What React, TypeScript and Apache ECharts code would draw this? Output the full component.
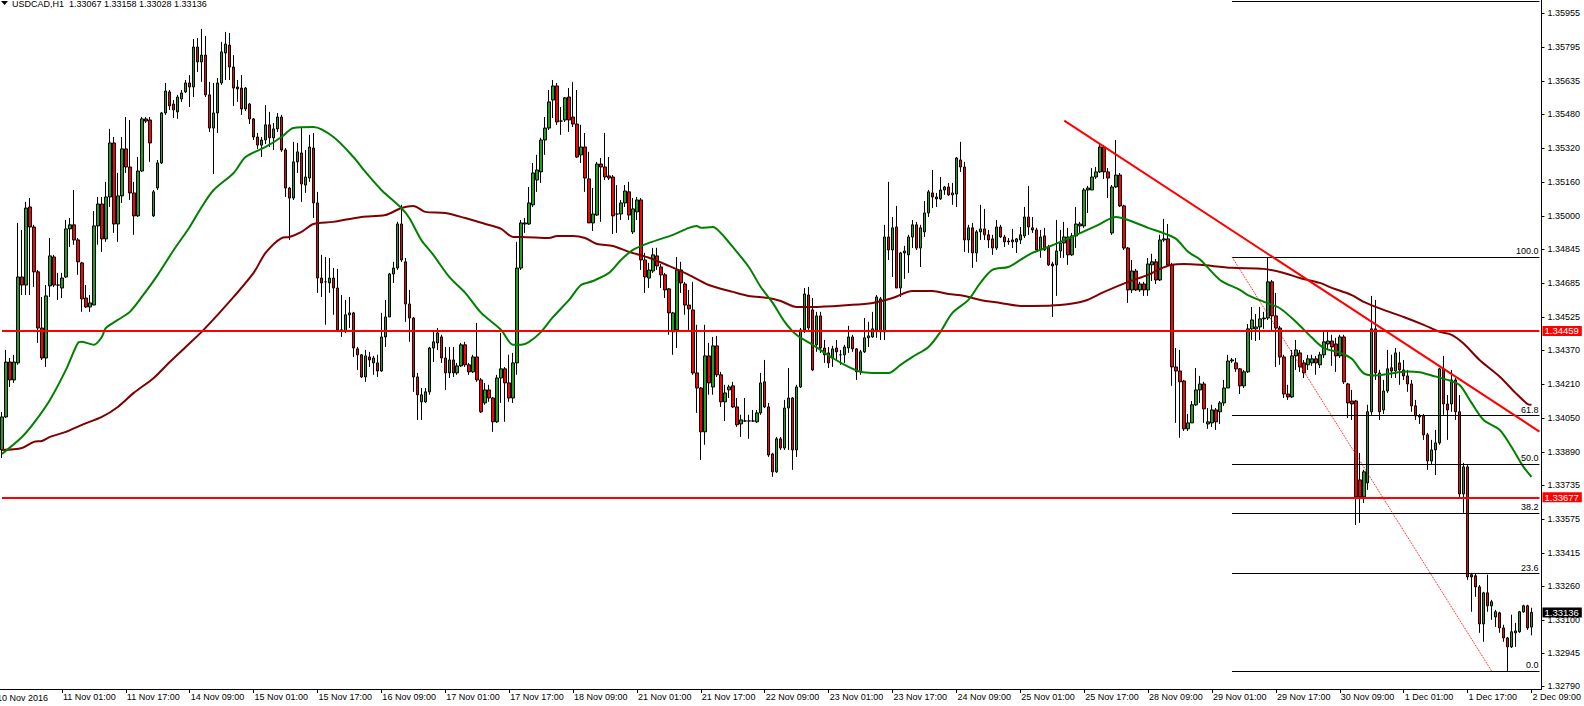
import React, { useEffect, useRef } from "react";
import * as echarts from "echarts";

// Prices are stored as points above 1.30000 (e.g. 4459 -> 1.34459)
const BASE = 1.3;
const px = (p: number) => +(BASE + p / 100000).toFixed(5);

const symbolName = "USDCAD,H1";

// trading days shown on the chart: [label, first hour, last hour]
const tradingDays: [string, number, number][] = [
  ["10 Nov", 10, 23], ["11 Nov", 0, 23], ["14 Nov", 0, 23], ["15 Nov", 0, 23], ["16 Nov", 0, 23],
  ["17 Nov", 0, 23], ["18 Nov", 0, 23], ["21 Nov", 0, 23], ["22 Nov", 0, 23], ["23 Nov", 0, 23],
  ["24 Nov", 0, 23], ["25 Nov", 0, 23], ["28 Nov", 0, 23], ["29 Nov", 0, 23], ["30 Nov", 0, 23],
  ["1 Dec", 0, 23], ["2 Dec", 0, 9],
];
const firstDateLabel = "10 Nov 2016";

const opens = [
  3900,4055,4313,4229,4309,4713,4675,5042,4948,4737, 4473,4332,4671,4807,4675,4661,4713,4939,4958,4887,
  4779,4614,4572,4581,4953,5056,4892,5089,5343,4962, 5094,5315,5230,5108,5000,5211,5456,5451,5000,5131,
  5249,5484,5583,5526,5489,5550,5583,5625,5606,5794, 5724,5756,5569,5413,5484,5625,5766,5803,5700,5606,
  5601,5503,5526,5456,5371,5333,5357,5428,5367,5409, 5465,5310,5131,5084,5254,5296,5145,5178,5319,5061,
  4708,4690,4685,4708,4661,4464,4455,4535,4544,4375, 4347,4243,4337,4309,4309,4271,4431,4525,4727,4755,
  4962,4784,4586,4520,4243,4126,4126,4173,4379,4403, 4431,4332,4262,4323,4262,4295,4394,4300,4267,4337,
  4229,4121,4182,4144,4032,4238,4281,4215,4144,4309, 4755,4967,4962,5052,5169,5207,5357,5413,5545,5611,
  5446,5451,5559,5465,5432,5287,5324,5174,4967,5004, 5244,5230,5188,5183,5009,5009,5061,5113,4925,5019,
  5075,4793,4708,4741,4812,4760,4723,4657,4455,4464, 4746,4680,4581,4558,4262,4191,3985,4342,4196,4389,
  4253,4126,4182,4201,4102,4022,4036,4036,4036,4032, 4074,4220,4102,3881,3797,3952,3909,4097,4144,3900,
  4196,4464,4628,4558,4394,4530,4379,4356,4332,4379, 4347,4347,4379,4431,4375,4267,4361,4427,4431,4464,
  4610,4455,4901,4840,4948,4661,4826,4817,4901,4958, 4849,4925,5014,5108,5089,5080,5122,5136,5099,5103,
  5263,5230,4887,4944,4826,4925,4939,4911,4892,4849, 4948,4901,4882,4887,4878,4887,4906,4995,4944,4934,
  4840,4906,4854,4774,4770,4835,4873,4901,4817,4906, 4953,4953,5122,5122,5183,5207,5324,5207,4920,5136,
  5192,5047,4849,4652,4741,4652,4680,4652,4770,4784, 4699,4887,4892,4770,4290,4271,4224,3999,4027,4112,
  4182,4210,4022,4027,4088,4079,4121,4191,4318,4309, 4281,4201,4267,4469,4469,4478,4516,4520,4690,4530,
  4473,4337,4163,4149,4342,4356,4309,4300,4309,4328, 4300,4347,4398,4412,4398,4342,4431,4210,4130,4130,
  3759,3679,3745,4079,4469,4262,4088,4177,4286,4271, 4309,4276,4248,4210,4107,4060,4060,3971,3848,3900,
  3933,4281,4116,4116,4229,4079,3693,3820,3313,3308, 3256,3082,3228,3167,3115,3134,3063,3016,2974,3040,
  3045,3139,3167,3067,
];
const highs = [
  4078,4370,4332,4347,4967,4934,5066,5084,4958,4746, 4619,4675,4896,4817,4732,4732,4981,4990,5122,4896,
  4784,4675,4628,5023,5089,5089,5160,5409,5371,5202, 5371,5465,5451,5160,5277,5465,5465,5465,5122,5263,
  5489,5625,5592,5545,5569,5592,5639,5662,5832,5836, 5879,5846,5630,5625,5648,5818,5865,5860,5756,5639,
  5662,5606,5531,5460,5390,5371,5521,5489,5437,5484, 5475,5319,5136,5348,5343,5413,5310,5381,5390,5113,
  4817,4807,4802,4755,4751,4628,4605,4619,4549,4384, 4351,4370,4361,4342,4347,4544,4605,4732,4784,4972,
  5052,4802,4652,4525,4262,4191,4191,4384,4455,4473, 4441,4384,4384,4384,4309,4403,4408,4309,4347,4497,
  4238,4215,4206,4149,4253,4450,4290,4347,4356,4878, 4981,4990,5136,5249,5287,5367,5465,5592,5639,5625,
  5512,5559,5601,5630,5592,5428,5390,5301,5131,5254, 5272,5390,5277,5192,5145,5075,5145,5160,5084,5089,
  5084,4826,4779,4850,4850,4774,4732,4661,4549,4807, 4784,4690,4652,4690,4488,4196,4488,4403,4431,4436,
  4267,4206,4206,4220,4144,4065,4144,4065,4088,4088, 4262,4323,4121,3886,3961,3961,4135,4285,4149,4206,
  4473,4661,4666,4614,4549,4549,4417,4384,4389,4417, 4370,4394,4483,4441,4379,4370,4520,4502,4549,4628,
  4619,4958,5160,4995,5047,4831,4859,4911,4981,4972, 4958,5070,5122,5216,5108,5183,5141,5155,5155,5277,
  5348,5254,4958,4967,4934,5052,5033,4934,4911,4981, 4958,4911,4896,4939,4896,4948,5042,5141,4995,4944,
  4934,4944,4864,4784,4981,4934,4972,4944,4920,5042, 4972,5131,5141,5225,5230,5338,5333,5225,5145,5357,
  5202,5052,4854,4793,4751,4690,4690,4802,4822,4798, 4911,4986,4962,4779,4379,4370,4229,4069,4130,4285,
  4248,4220,4097,4112,4097,4130,4229,4347,4332,4332, 4285,4276,4492,4572,4539,4572,4549,4807,4699,4638,
  4483,4347,4206,4370,4417,4370,4323,4347,4347,4342, 4361,4464,4464,4441,4427,4441,4441,4215,4182,4135,
  3886,3806,4112,4624,4605,4276,4229,4370,4347,4379, 4361,4323,4276,4229,4135,4069,4069,3980,3947,3994,
  4286,4342,4158,4276,4238,4158,3839,3834,3322,3317, 3265,3233,3313,3195,3148,3139,3078,3021,3125,3087,
  3143,3172,3172,3158,
];
const lows = [
  3862,4050,4196,4215,4300,4628,4628,4628,4666,4403, 4323,4290,4619,4666,4605,4614,4708,4854,4864,4723,
  4549,4567,4549,4581,4864,4831,4878,5042,4920,4878, 5061,5202,5075,4911,4995,5207,5437,5254,4995,5122,
  5244,5475,5498,5460,5456,5536,5578,5512,5559,5677, 5630,5559,5395,5197,5390,5616,5639,5639,5517,5536,
  5475,5493,5432,5357,5315,5277,5338,5324,5310,5395, 5301,5089,4887,5075,5202,5066,5108,5160,4990,4638,
  4619,4488,4638,4535,4455,4431,4450,4473,4337,4276, 4238,4220,4290,4253,4243,4267,4384,4525,4685,4746,
  4784,4502,4408,4173,4041,4041,4121,4159,4313,4370, 4309,4182,4238,4243,4253,4290,4290,4253,4262,4220,
  4074,4112,4126,3985,4027,4121,4032,4126,4121,4253, 4746,4920,4958,5042,5113,5155,5287,5404,5460,5428,
  5381,5442,5395,5418,5272,5249,5113,4967,4929,5000, 4972,5169,5169,4915,4920,4981,5042,4981,4915,4981,
  4746,4638,4661,4732,4746,4661,4614,4441,4347,4379, 4638,4535,4464,4253,4074,3853,3924,4159,4159,4243,
  4102,4036,4144,4097,4008,3961,4032,3952,4032,4027, 4065,4097,3867,3773,3792,3900,3900,3900,3806,3867,
  4191,4450,4464,4271,4361,4356,4309,4285,4290,4323, 4300,4309,4356,4361,4229,4253,4356,4384,4427,4427,
  4417,4417,4793,4713,4661,4619,4704,4732,4849,4840, 4760,4901,4995,5037,5042,5075,5099,5094,5052,5042,
  5207,4831,4826,4756,4784,4887,4887,4849,4817,4840, 4896,4854,4864,4849,4826,4868,4896,4911,4920,4835,
  4803,4835,4765,4525,4624,4803,4803,4770,4812,4849, 4920,4944,5014,5122,5174,5202,5174,5084,4911,5131,
  5042,4840,4591,4638,4647,4643,4624,4624,4694,4680, 4694,4878,4765,4201,4027,3957,3989,3989,4027,4107,
  4121,4027,3999,4008,3994,4022,4107,4191,4309,4267, 4163,4191,4262,4417,4412,4417,4469,4511,4464,4290,
  4300,4144,4135,4144,4276,4267,4238,4276,4295,4253, 4285,4332,4370,4295,4267,4332,4210,4050,4041,3547,
  3557,3651,3712,4065,4229,4041,4069,4168,4238,4238, 4206,4229,4173,4079,4041,4022,3947,3806,3829,3782,
  3924,4065,3947,4079,4041,3670,3604,3289,3139,3209, 3040,2998,3139,3101,3068,3040,2998,2861,2969,2974,
  3040,3134,3054,3028,
];
const closes = [
  4055,4313,4229,4313,4713,4675,5037,4948,4737,4473, 4332,4624,4812,4675,4675,4708,4939,4958,4887,4784,
  4610,4572,4591,4953,5056,4892,5089,5343,4962,5094, 5315,5230,5108,5000,5211,5456,5446,5343,5113,5249,
  5484,5587,5517,5498,5559,5578,5625,5606,5794,5724, 5756,5569,5413,5484,5625,5771,5808,5700,5601,5597,
  5503,5601,5456,5371,5333,5357,5428,5367,5409,5465, 5310,5131,5084,5254,5301,5150,5183,5324,5061,4708,
  4685,4690,4708,4661,4464,4464,4535,4544,4379,4347, 4243,4342,4323,4332,4271,4431,4525,4727,4755,4962,
  4793,4586,4520,4243,4159,4159,4173,4379,4408,4450, 4332,4262,4323,4262,4295,4394,4300,4267,4337,4229,
  4079,4182,4144,4032,4238,4281,4215,4144,4309,4755, 4967,4962,5061,5202,5216,5357,5413,5536,5611,5442,
  5446,5555,5451,5432,5277,5324,5178,4967,5009,5244, 5230,5183,5178,5000,5009,5061,5117,5004,5033,5075,
  4793,4713,4746,4817,4765,4723,4652,4544,4544,4746, 4685,4581,4563,4262,4191,3985,4342,4215,4389,4253,
  4126,4168,4196,4102,4018,4041,4036,4036,4036,4074, 4215,4102,3876,3797,3952,3909,4097,4144,3900,4196,
  4464,4633,4473,4276,4530,4379,4347,4309,4375,4361, 4347,4384,4431,4375,4267,4361,4427,4436,4469,4619,
  4455,4901,4840,4944,4661,4826,4835,4901,4958,4849, 4944,5014,5113,5089,5080,5122,5136,5099,5108,5272,
  5230,4887,4944,4826,4925,4939,4911,4887,4849,4948, 4901,4878,4878,4878,4892,4911,4995,4948,4934,4840,
  4901,4840,4770,4765,4835,4873,4901,4817,4906,4962, 4962,5122,5131,5183,5207,5324,5207,5178,5136,5192,
  5047,4849,4652,4741,4652,4680,4652,4774,4784,4699, 4887,4892,4770,4290,4271,4220,3999,4027,4112,4182,
  4210,4093,4032,4088,4032,4121,4191,4318,4323,4281, 4201,4267,4469,4511,4478,4516,4520,4690,4530,4473,
  4337,4163,4149,4342,4370,4290,4262,4328,4328,4309, 4347,4408,4412,4384,4342,4431,4220,4121,4116,3679,
  3679,3797,4079,4469,4262,4079,4177,4281,4271,4356, 4276,4248,4210,4107,4060,4055,3971,3848,3900,3933,
  4281,4116,4088,4229,4079,3693,3820,3303,3303,3256, 3082,3228,3167,3186,3139,3063,3016,2974,3045,3049,
  3139,3167,3063,3136,
];

// moving averages: [bar index, points]
const fastMA: [number, number][] = [
  [0,3881],[5,3961],[8,4027],[12,4135],[16,4276],[19,4403],[20,4408],[23,4394],[25,4431],[26,4473],
  [29,4511],[32,4549],[35,4619],[39,4723],[43,4840],[47,4948],[50,5042],[53,5122],[58,5202],[61,5277],
  [66,5324],[70,5371],[73,5413],[78,5418],[83,5371],[88,5277],[91,5207],[95,5122],[100,5037],[102,4990],
  [105,4887],[108,4817],[112,4713],[116,4638],[120,4544],[125,4464],[128,4394],[130,4394],[132,4408],[135,4455],
  [138,4525],[142,4605],[145,4675],[148,4694],[152,4732],[155,4793],[158,4840],[162,4873],[165,4892],[168,4911],
  [172,4944],[174,4953],[175,4944],[178,4948],[180,4920],[183,4854],[187,4760],[190,4666],[193,4591],[196,4502],
  [199,4440],[203,4394],[208,4332],[212,4290],[215,4267],[218,4262],[222,4262],[225,4300],[228,4337],[232,4384],
  [235,4455],[238,4544],[242,4605],[245,4685],[248,4746],[252,4760],[255,4793],[258,4826],[262,4854],[269,4911],
  [274,4953],[279,4995],[282,4981],[287,4944],[291,4918],[294,4892],[297,4831],[300,4795],[305,4699],[310,4652],
  [312,4628],[316,4596],[320,4566],[324,4502],[328,4428],[331,4379],[335,4358],[338,4328],[341,4260],[344,4250],
  [349,4263],[352,4269],[355,4265],[358,4250],[362,4229],[365,4205],[368,4121],[371,4041],[375,3995],[378,3914],
  [381,3820],[383,3773],
];
const slowMA: [number, number][] = [
  [0,3900],[5,3909],[8,3938],[10,3942],[12,3961],[16,3985],[20,4018],[25,4055],[29,4102],[33,4168],
  [38,4238],[42,4313],[46,4384],[50,4455],[54,4535],[58,4619],[63,4732],[66,4826],[70,4896],[72,4901],
  [75,4925],[78,4962],[83,4972],[90,4995],[96,5004],[100,5037],[103,5047],[106,5019],[111,5014],[116,4990],
  [121,4962],[125,4939],[128,4901],[130,4901],[137,4896],[139,4906],[143,4906],[146,4896],[149,4868],[153,4859],
  [157,4831],[162,4803],[167,4765],[172,4723],[177,4675],[183,4643],[187,4624],[192,4614],[195,4600],[199,4572],
  [203,4572],[212,4581],[218,4591],[223,4614],[228,4647],[233,4647],[237,4633],[241,4624],[245,4605],[250,4591],
  [255,4577],[258,4577],[265,4581],[271,4600],[276,4643],[282,4690],[287,4723],[290,4751],[293,4770],[296,4774],
  [300,4770],[308,4756],[316,4751],[321,4732],[325,4708],[330,4685],[333,4662],[338,4628],[341,4596],[346,4558],
  [351,4525],[356,4488],[360,4455],[363,4441],[366,4400],[370,4323],[375,4245],[379,4168],[382,4116],[383,4112],
];

// drawn objects
const horizontalLevels = [4459, 3677];
const trendLine: [number, number][] = [[266, 5448], [385, 3986]];
const fibAnchors: [number, number][] = [[308, 4807], [373, 2861]];
const fibRatios = [0, 0.236, 0.382, 0.5, 0.618, 1, 1.618];

const yTicks = [
  1.35955, 1.35795, 1.35635, 1.3548, 1.3532, 1.3516, 1.35, 1.34845, 1.34685, 1.34525, 1.3437,
  1.3421, 1.3405, 1.3389, 1.33735, 1.33575, 1.33415, 1.3326, 1.331, 1.32945, 1.3279,
];

const FONT = "Liberation Sans, Arial, sans-serif";

export default function App() {
  const ref = useRef<HTMLDivElement>(null);
  useEffect(() => {
    const categories: string[] = [];
    tradingDays.forEach(([d, h0, h1]) => {
      for (let h = h0; h <= h1; h++) categories.push(`${d} ${String(h).padStart(2, "0")}:00`);
    });
    const nBars = categories.length;
    const allCats = [...categories, "", ""];
    const lastIdx = allCats.length - 1;
    const showTick = (i: number) => i >= 15 && i < nBars && (i - 15) % 16 === 0;

    const candles = opens.map((o, i) => [px(o), px(closes[i]), px(lows[i]), px(highs[i])]);
    const last = nBars - 1;
    const title = `${symbolName}  ${px(opens[last]).toFixed(5)} ${px(highs[last]).toFixed(5)} ${px(lows[last]).toFixed(5)} ${px(closes[last]).toFixed(5)}`;

    const fibLow = fibAnchors[1][1];
    const fibHigh = fibAnchors[0][1];
    const fibLines = fibRatios.map((r) => {
      const v = +(BASE + (fibLow + r * (fibHigh - fibLow)) / 100000).toFixed(5);
      const style = { color: "#000", width: 1, type: "solid" as const };
      const label = {
        show: r <= 1, position: "insideEndTop" as const, formatter: (r * 100).toFixed(1),
        color: "#000", fontSize: 9, fontFamily: FONT, distance: 1,
      };
      return [
        { coord: [fibAnchors[0][0], v], lineStyle: style, label },
        { coord: [lastIdx, v], lineStyle: style, label },
      ];
    });

    const tagLabel = (text: string, bg: string) => ({
      show: true, position: "end" as const, formatter: text, color: "#fff", backgroundColor: bg,
      align: "left" as const, verticalAlign: "middle" as const,
      fontSize: 9.5, fontFamily: FONT, padding: [0, 3, 0, 2], distance: 3,
    });
    const fullWidth = (v: number, lineStyle: any, label: any) => [
      { coord: [0, v], lineStyle, label },
      { coord: [lastIdx, v], lineStyle, label },
    ];

    const chart = echarts.init(ref.current!, null, { renderer: "svg" });
    chart.setOption({
      animation: false,
      backgroundColor: "#fff",
      grid: { left: -1, top: 0, width: 1544, height: 689, containLabel: false },
      xAxis: {
        type: "category",
        data: allCats,
        boundaryGap: true,
        axisLine: { show: true, lineStyle: { color: "#000", width: 1 } },
        axisTick: { show: true, alignWithLabel: true, interval: (i: number) => showTick(i), length: 4, lineStyle: { color: "#000" } },
        axisLabel: {
          show: true, interval: (i: number) => showTick(i), align: "left", margin: 3,
          formatter: (v: string, i: number) => (showTick(i) ? v : ""),
          fontSize: 9, fontFamily: FONT, color: "#000", padding: [0, 0, 0, 1],
          showMinLabel: true, showMaxLabel: true,
        },
        splitLine: { show: false },
      },
      yAxis: {
        type: "value",
        position: "right",
        min: 1.32776,
        max: 1.36015,
        axisLine: { show: true, lineStyle: { color: "#000", width: 1 } },
        axisTick: { show: true, customValues: yTicks, length: 3, lineStyle: { color: "#000" } },
        axisLabel: {
          show: true, customValues: yTicks, formatter: (v: number) => v.toFixed(5),
          fontSize: 9, fontFamily: FONT, color: "#000", margin: 6,
        },
        splitLine: { show: false },
      },
      graphic: [
        { type: "polygon", shape: { points: [[1, 1], [8, 1], [4.5, 5]] }, style: { fill: "#000" } },
        { type: "text", x: 12, y: -1, style: { text: title, fontSize: 9, fontFamily: FONT, fill: "#000" } },
        { type: "text", x: -3, y: 693, style: { text: firstDateLabel, fontSize: 9, fontFamily: FONT, fill: "#000" } },
      ],
      series: [
        {
          type: "candlestick",
          data: candles,
          barWidth: 3,
          z: 2,
          itemStyle: {
            color: "#1fa01f", color0: "#ff0000",
            borderColor: "#000", borderColor0: "#000", borderWidth: 1,
          },
        },
        {
          type: "line",
          data: slowMA.map(([k, p]) => [k, px(p)]),
          showSymbol: false, symbol: "none", smooth: 0.3, z: 3,
          lineStyle: { color: "#800000", width: 2 },
          markLine: {
            silent: true, symbol: ["none", "none"], animation: false,
            data: [
              ...fibLines,
              [
                { coord: [fibAnchors[0][0], px(fibAnchors[0][1])], lineStyle: { color: "#ff0000", width: 1, type: "dotted" }, label: { show: false } },
                { coord: [fibAnchors[1][0], px(fibAnchors[1][1])], lineStyle: { color: "#ff0000", width: 1, type: "dotted" }, label: { show: false } },
              ],
            ],
          },
        },
        {
          type: "line",
          data: fastMA.map(([k, p]) => [k, px(p)]),
          showSymbol: false, symbol: "none", smooth: 0.3, z: 4,
          lineStyle: { color: "#008000", width: 2 },
          markLine: {
            silent: true, symbol: ["none", "none"], animation: false,
            data: [
              ...horizontalLevels.map((p) =>
                fullWidth(px(p), { color: "#ff0000", width: 2, type: "solid" }, tagLabel(px(p).toFixed(5), "#ff0000"))
              ),
              fullWidth(px(closes[last]), { color: "rgba(0,0,0,0)", width: 1, type: "solid" }, tagLabel(px(closes[last]).toFixed(5), "#000")),
              [
                { coord: [trendLine[0][0], px(trendLine[0][1])], lineStyle: { color: "#ff0000", width: 2, type: "solid" }, label: { show: false } },
                { coord: [trendLine[1][0], px(trendLine[1][1])], lineStyle: { color: "#ff0000", width: 2, type: "solid" }, label: { show: false } },
              ],
            ],
          },
        },
      ],
    });
    return () => chart.dispose();
  }, []);
  return (
    <div
      ref={ref}
      style={{ position: "fixed", left: 0, top: 0, width: 1584, height: 706, background: "#fff" }}
    />
  );
}
